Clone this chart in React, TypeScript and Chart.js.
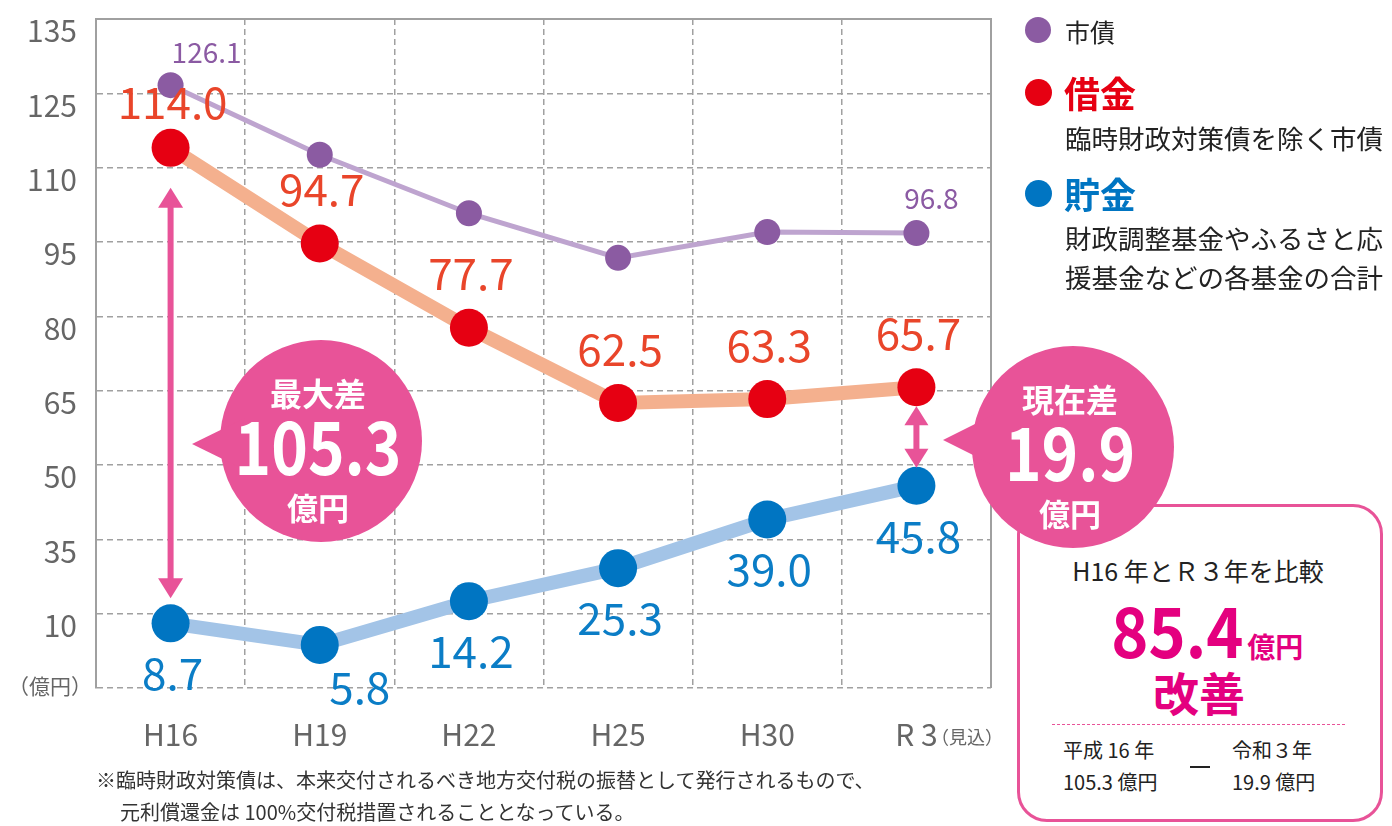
import React, { useEffect, useRef } from 'react';
import { Chart, registerables, LinearScale } from 'chart.js';

Chart.register(...registerables);

// ---------- data ----------
const categories = ['H16', 'H19', 'H22', 'H25', 'H30', 'R 3'];
const shisai = [126.1, 112.6, 100.8, 91.8, 97.0, 96.8];
const shakkin = [114.0, 94.7, 77.7, 62.5, 63.3, 65.7];
const chokin = [8.7, 5.8, 14.2, 25.3, 39.0, 45.8];
const yTickValues = [0, 10, 35, 50, 65, 80, 95, 110, 125, 135];
const shisaiLabelIdx = [0, 5];

const FONT = "'Noto Sans CJK JP', 'Noto Sans', sans-serif";
const PINK = '#e85398';
const MAGENTA = '#e4007f';
const GRID = '#a0a0a0';

// ---------- piecewise scale: tick values equally spaced ----------
class PiecewiseScale extends LinearScale {
  static id = 'piecewise';
  toIndex(v: number) {
    const k = yTickValues;
    if (v <= k[0]) return 0;
    for (let i = 1; i < k.length; i++) {
      if (v <= k[i]) return i - 1 + (v - k[i - 1]) / (k[i] - k[i - 1]);
    }
    return k.length - 1;
  }
  fromIndex(idx: number) {
    const k = yTickValues;
    const i = Math.max(0, Math.min(k.length - 2, Math.floor(idx)));
    return k[i] + (idx - i) * (k[i + 1] - k[i]);
  }
  determineDataLimits() {
    (this as any).min = yTickValues[0];
    (this as any).max = yTickValues[yTickValues.length - 1];
  }
  buildTicks() {
    (this as any).start = (this as any).min;
    (this as any).end = (this as any).max;
    return yTickValues.map((v) => ({ value: v }));
  }
  getPixelForValue(v: number) {
    return (this as any).getPixelForDecimal(this.toIndex(v) / (yTickValues.length - 1));
  }
  getValueForPixel(p: number) {
    return this.fromIndex((this as any).getDecimalForPixel(p) * (yTickValues.length - 1));
  }
}
Chart.register(PiecewiseScale as any);

// ---------- plugins ----------
const labelCfg = [
  { color: '#8b5aa3', size: 28, show: (i: number) => shisaiLabelIdx.includes(i), off: (i: number) => (i === 0 ? [36, -33] : [15, -35]) },
  { color: '#e9452a', size: 44, show: () => true, off: (i: number) => (i === 0 ? [2, -46] : [2, -54]) },
  { color: '#0b7dc6', size: 44, show: () => true, off: (i: number) => (i === 1 ? [40, 42] : [2, 50]) },
];

function arrow(ctx: CanvasRenderingContext2D, x: number, yTop: number, yBot: number, hw: number, hh: number, sw: number) {
  ctx.save();
  ctx.fillStyle = PINK;
  ctx.fillRect(x - sw / 2, yTop + hh - 1, sw, yBot - yTop - 2 * hh + 2);
  ctx.beginPath();
  ctx.moveTo(x, yTop);
  ctx.lineTo(x - hw / 2, yTop + hh);
  ctx.lineTo(x + hw / 2, yTop + hh);
  ctx.closePath();
  ctx.fill();
  ctx.beginPath();
  ctx.moveTo(x, yBot);
  ctx.lineTo(x - hw / 2, yBot - hh);
  ctx.lineTo(x + hw / 2, yBot - hh);
  ctx.closePath();
  ctx.fill();
  ctx.restore();
}

const overlayPlugin = {
  id: 'overlay',
  afterDatasetsDraw(chart: any) {
    const ctx: CanvasRenderingContext2D = chart.ctx;
    const a = chart.chartArea;
    // frame (top, right solid)
    ctx.save();
    ctx.strokeStyle = GRID;
    ctx.lineWidth = 2;
    ctx.beginPath();
    ctx.moveTo(a.left, a.top);
    ctx.lineTo(a.right, a.top);
    ctx.lineTo(a.right, a.bottom);
    ctx.stroke();
    ctx.restore();

    // difference arrows
    const red = chart.getDatasetMeta(1).data;
    const blue = chart.getDatasetMeta(2).data;
    const last = red.length - 1;
    arrow(ctx, red[0].x, red[0].y + 40, blue[0].y - 25, 25, 20, 6);
    arrow(ctx, red[last].x, red[last].y + 19, blue[last].y - 18, 24, 19, 6);

    // value labels
    chart.data.datasets.forEach((ds: any, di: number) => {
      const cfg = labelCfg[di];
      const meta = chart.getDatasetMeta(di);
      ctx.save();
      ctx.fillStyle = cfg.color;
      ctx.font = `${cfg.size}px ${FONT}`;
      ctx.textAlign = 'center';
      ctx.textBaseline = 'middle';
      meta.data.forEach((pt: any, i: number) => {
        if (!cfg.show(i)) return;
        const [dx, dy] = cfg.off(i);
        ctx.fillText(Number(ds.data[i]).toFixed(1), pt.x + dx, pt.y + dy);
      });
      ctx.restore();
    });
  },
};

// ---------- helpers ----------
function Txt(props: { x: number; y: number; anchor?: 'left' | 'center'; style?: any; children: any }) {
  const tx = props.anchor === 'center' ? '-50%' : '0';
  return (
    <div
      style={{
        position: 'absolute',
        left: props.x,
        top: props.y,
        transform: `translate(${tx}, -50%)`,
        whiteSpace: 'nowrap',
        lineHeight: 1.2,
        ...props.style,
      }}
    >
      {props.children}
    </div>
  );
}

function Dot({ x, y, r, color }: { x: number; y: number; r: number; color: string }) {
  return <div style={{ position: 'absolute', left: x - r, top: y - r, width: 2 * r, height: 2 * r, borderRadius: '50%', background: color }} />;
}

function Bubble(props: { cx: number; cy: number; r: number; tipX: number; tipY: number; baseX: number; title: string; num: string }) {
  const { cx, cy, r, tipX, tipY, baseX } = props;
  const white = { color: '#fff', fontWeight: 700 };
  return (
    <>
      <div style={{ position: 'absolute', left: cx - r, top: cy - r, width: 2 * r, height: 2 * r, borderRadius: '50%', background: PINK }} />
      <svg style={{ position: 'absolute', left: 0, top: 0, overflow: 'visible' }} width={1} height={1}>
        <polygon points={`${tipX},${tipY} ${baseX},${tipY - 26} ${baseX},${tipY + 26}`} fill={PINK} />
      </svg>
      <Txt x={cx - 3} y={cy - 49} anchor="center" style={{ ...white, fontSize: 32 }}>{props.title}</Txt>
      <div
        style={{
          position: 'absolute',
          left: cx - 3,
          top: cy + 2,
          transform: 'translate(-50%, -50%) scaleX(0.84)',
          whiteSpace: 'nowrap',
          lineHeight: 1,
          fontSize: 74,
          ...white,
        }}
      >
        {props.num}
      </div>
      <Txt x={cx - 3} y={cy + 66} anchor="center" style={{ ...white, fontSize: 31 }}>億円</Txt>
    </>
  );
}

export default function App() {
  const ref = useRef<HTMLCanvasElement | null>(null);

  useEffect(() => {
    if (!ref.current) return;
    Chart.defaults.font.family = FONT;
    const chart = new Chart(ref.current, {
      type: 'line',
      data: {
        labels: categories,
        datasets: [
          {
            label: '市債',
            data: shisai,
            borderColor: '#bea4cf',
            borderWidth: 5,
            pointRadius: 13,
            pointBackgroundColor: '#8b5ba2',
            pointBorderWidth: 0,
            tension: 0,
          },
          {
            label: '借金',
            data: shakkin,
            borderColor: '#f4b08e',
            borderWidth: 14,
            pointRadius: 19,
            pointBackgroundColor: '#e60012',
            pointBorderWidth: 0,
            tension: 0,
          },
          {
            label: '貯金',
            data: chokin,
            borderColor: '#a3c4e7',
            borderWidth: 14,
            pointRadius: 19,
            pointBackgroundColor: '#0075c2',
            pointBorderWidth: 0,
            tension: 0,
          },
        ],
      },
      options: {
        animation: false,
        responsive: false,
        devicePixelRatio: 1,
        layout: { padding: { left: 0, top: 17, right: 401, bottom: 0 } },
        plugins: { legend: { display: false }, tooltip: { enabled: false } },
        scales: {
          x: {
            type: 'category',
            offset: true,
            grid: { offset: true, color: GRID, lineWidth: 1.5, drawTicks: false },
            border: { display: false, dash: [6, 4] },
            ticks: { color: '#666', font: { size: 30, lineHeight: 1.2 }, padding: 29, maxRotation: 0, autoSkip: false },
            afterFit: (s: any) => {
              s.height = 138;
              s.paddingLeft = 0;
              s.paddingRight = 0;
            },
          },
          y: {
            type: 'piecewise' as any,
            grid: { color: GRID, lineWidth: 1.5, drawTicks: false },
            border: { display: true, color: GRID, width: 2, dash: [6, 4] },
            ticks: {
              color: '#666',
              font: { size: 30, lineHeight: 1 },
              padding: 19,
              labelOffset: 12,
              callback: (v: any) => (Number(v) === 0 ? '' : String(v)),
            },
            afterFit: (s: any) => {
              s.width = 96;
              s.paddingTop = 0;
              s.paddingBottom = 0;
            },
          } as any,
        },
      },
      plugins: [overlayPlugin],
    });
    return () => chart.destroy();
  }, []);

  const dark = '#222';
  return (
    <div style={{ position: 'fixed', left: 0, top: 0, width: 1392, height: 826, background: '#fff', fontFamily: FONT, overflow: 'hidden' }}>
      <canvas ref={ref} width={1392} height={826} style={{ position: 'absolute', left: 0, top: 0, width: 1392, height: 826 }} />

      {/* axis notes */}
      <Txt x={8} y={686} style={{ fontSize: 21, color: '#666' }}>（億円）</Txt>
      <Txt x={931} y={737} style={{ fontSize: 18, color: '#666' }}>（見込）</Txt>

      {/* legend */}
      <Dot x={1038} y={30} r={13} color="#8b5ba2" />
      <Txt x={1065} y={31} style={{ fontSize: 25, color: dark }}>市債</Txt>
      <Dot x={1038} y={92} r={13.5} color="#e60012" />
      <Txt x={1064} y={93} style={{ fontSize: 36, color: '#e60012', fontWeight: 700 }}>借金</Txt>
      <Txt x={1065} y={138} style={{ fontSize: 26.5, color: dark }}>臨時財政対策債を除く市債</Txt>
      <Dot x={1038} y={193} r={13.5} color="#0075c2" />
      <Txt x={1064} y={194} style={{ fontSize: 36, color: '#0075c2', fontWeight: 700 }}>貯金</Txt>
      <Txt x={1065} y={238} style={{ fontSize: 26.5, color: dark }}>財政調整基金やふるさと応</Txt>
      <Txt x={1065} y={277} style={{ fontSize: 26.5, color: dark }}>援基金などの各基金の合計</Txt>

      {/* comparison box */}
      <div
        style={{
          position: 'absolute',
          left: 1017,
          top: 504,
          width: 366 - 6,
          height: 318 - 6,
          border: `3px solid ${PINK}`,
          borderRadius: 30,
          background: '#fff',
        }}
      />
      <Txt x={1198} y={570} anchor="center" style={{ fontSize: 25, color: dark }}>H16 年とＲ３年を比較</Txt>
      <div
        style={{
          position: 'absolute',
          left: 1200,
          top: 628,
          transform: 'translate(-50%, -50%)',
          whiteSpace: 'nowrap',
          lineHeight: 1,
          color: MAGENTA,
          fontWeight: 700,
        }}
      >
        <span style={{ fontSize: 70, display: 'inline-block', transform: 'scaleX(0.9)', transformOrigin: 'right' }}>85.4</span>
        <span style={{ fontSize: 28, marginLeft: 4 }}>億円</span>
      </div>
      <Txt x={1199} y={692} anchor="center" style={{ fontSize: 46, color: MAGENTA, fontWeight: 700 }}>改善</Txt>
      <div style={{ position: 'absolute', left: 1052, top: 724, width: 293, borderTop: `1.5px dashed ${PINK}` }} />
      <Txt x={1063} y={750} style={{ fontSize: 20, color: dark }}>平成 16 年</Txt>
      <Txt x={1063} y={782} style={{ fontSize: 20, color: dark }}>105.3 億円</Txt>
      <div style={{ position: 'absolute', left: 1190, top: 766, width: 20, height: 2, background: dark }} />
      <Txt x={1232} y={750} style={{ fontSize: 20, color: dark }}>令和３年</Txt>
      <Txt x={1232} y={782} style={{ fontSize: 20, color: dark }}>19.9 億円</Txt>

      {/* bubbles */}
      <Bubble cx={321} cy={441} r={101} tipX={192} tipY={444} baseX={245} title="最大差" num="105.3" />
      <Bubble cx={1073} cy={447} r={101} tipX={943} tipY={440} baseX={995} title="現在差" num="19.9" />

      {/* footnote */}
      <Txt x={96} y={780} style={{ fontSize: 20, color: '#333' }}>※臨時財政対策債は、本来交付されるべき地方交付税の振替として発行されるもので、</Txt>
      <Txt x={120} y={812} style={{ fontSize: 20, color: '#333' }}>元利償還金は 100%交付税措置されることとなっている。</Txt>
    </div>
  );
}
